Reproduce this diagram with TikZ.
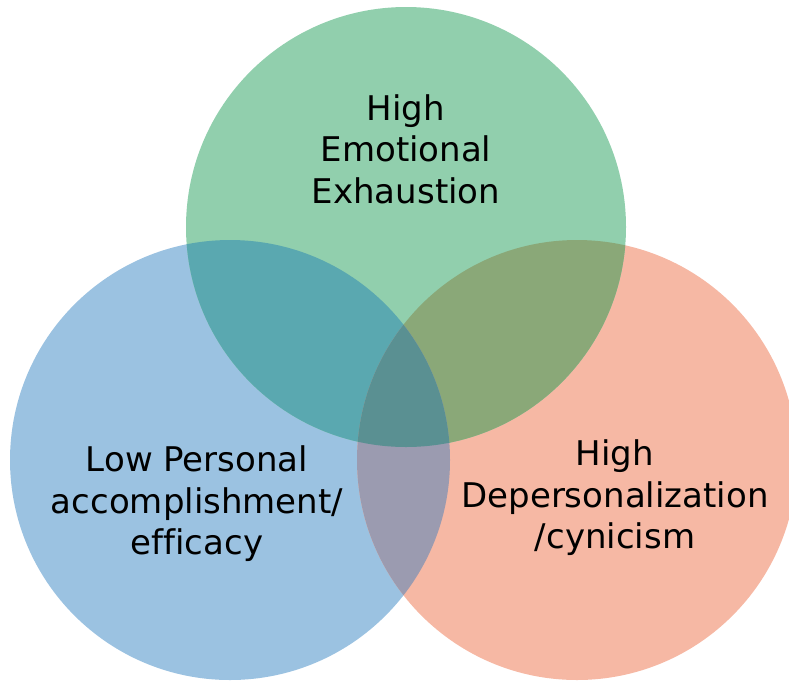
\documentclass[tikz,border=0pt]{standalone}
\usepackage{fontspec}
\setmainfont[Ligatures=NoCommon]{DejaVu Sans}
\usepackage{tikz}

\definecolor{exgreen}{HTML}{91CFAD}
\definecolor{pablue}{HTML}{9BC2E1}
\definecolor{dporange}{HTML}{F6B8A4}
\definecolor{gbmix}{HTML}{5AA8B0}
\definecolor{gomix}{HTML}{8AA878}
\definecolor{bomix}{HTML}{9B9BB0}
\definecolor{allmix}{HTML}{5A9092}

\begin{document}
\begin{tikzpicture}[x=1pt, y=-1pt,
		lbl/.style={align=center, text=black, inner sep=0pt,
			font=\fontsize{34}{41.5}\selectfont}]
		\useasboundingbox (0,0) rectangle (789,681);
		\clip (0,0) rectangle (789,681);
		\coordinate (ee) at (406,227);
		\coordinate (pa) at (230,460);
		\coordinate (dp) at (577,460);
		% circles
		\fill[pablue] (pa) circle (220pt);
		\fill[dporange] (dp) circle (220pt);
		\fill[exgreen] (ee) circle (220pt);
		% overlaps
		\begin{scope}
			\clip (ee) circle (220pt);
			\fill[gbmix] (pa) circle (220pt);
			\fill[gomix] (dp) circle (220pt);
		\end{scope}
		\begin{scope}
			\clip (pa) circle (220pt);
			\fill[bomix] (dp) circle (220pt);
			\clip (dp) circle (220pt);
			\fill[allmix] (ee) circle (220pt);
		\end{scope}
		% labels
		\node[lbl] (eelbl) at (406,149) {High\\Emotional\\Exhaustion};
		\node[lbl] (palbl) at (197,504) {Low Personal\\accomplishment/\\efficacy};
		\node[lbl] (dplbl) at (615,498) {High\\Depersonalization\\/cynicism};
	\end{tikzpicture}
\end{document}
